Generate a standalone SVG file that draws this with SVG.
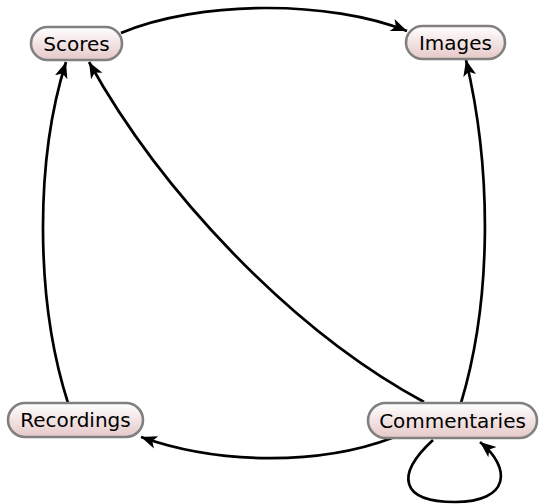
<svg xmlns="http://www.w3.org/2000/svg" width="540" height="504" viewBox="0 0 540 504">
<defs>
<linearGradient id="g" x1="0" y1="0" x2="0" y2="1">
<stop offset="0" stop-color="#ffffff"/>
<stop offset="1" stop-color="#e6c8c8"/>
</linearGradient>
<marker id="arr" markerUnits="userSpaceOnUse" markerWidth="18" markerHeight="16" viewBox="0 0 18 16" refX="16" refY="8" orient="auto">
<path d="M0,1.5 L16,8 L0,14.5 L4,8 z" fill="#000"/>
</marker>
</defs>
<style>
.node rect{fill:url(#g);stroke:#808080;stroke-width:2.6}
.node text{font-family:"DejaVu Sans",sans-serif;font-size:20px;fill:#000;text-anchor:middle}
.edge{fill:none;stroke:#000;stroke-width:2.7;marker-end:url(#arr)}
</style>
<g id="connectors">
<path class="edge" d="M121,33 C200,0 330,0 407,31"/>
<path class="edge" d="M68,403 C35,300 35,160 66,62"/>
<path class="edge" d="M424,402 C290,330 160,190 89,62"/>
<path class="edge" d="M461,403 C492,300 492,170 466,60"/>
<path class="edge" d="M392,438 C320,465 220,465 141,437"/>
<path class="edge" d="M433,440 C395,475 400,502 455,502 C510,502 512,468 480,442"/>
</g>
<g id="n-scores" class="node">
<rect x="31" y="27" width="91" height="33" rx="16.5"/>
<text x="76.5" y="50.5">Scores</text>
</g>
<g id="n-images" class="node">
<rect x="406" y="26" width="99" height="33" rx="16.5"/>
<text x="455.5" y="49.5">Images</text>
</g>
<g id="n-recordings" class="node">
<rect x="8" y="403" width="135" height="34" rx="17"/>
<text x="75.5" y="427">Recordings</text>
</g>
<g id="n-commentaries" class="node">
<rect x="368" y="403" width="169" height="35" rx="17.5"/>
<text x="452.5" y="427.5">Commentaries</text>
</g>
</svg>
